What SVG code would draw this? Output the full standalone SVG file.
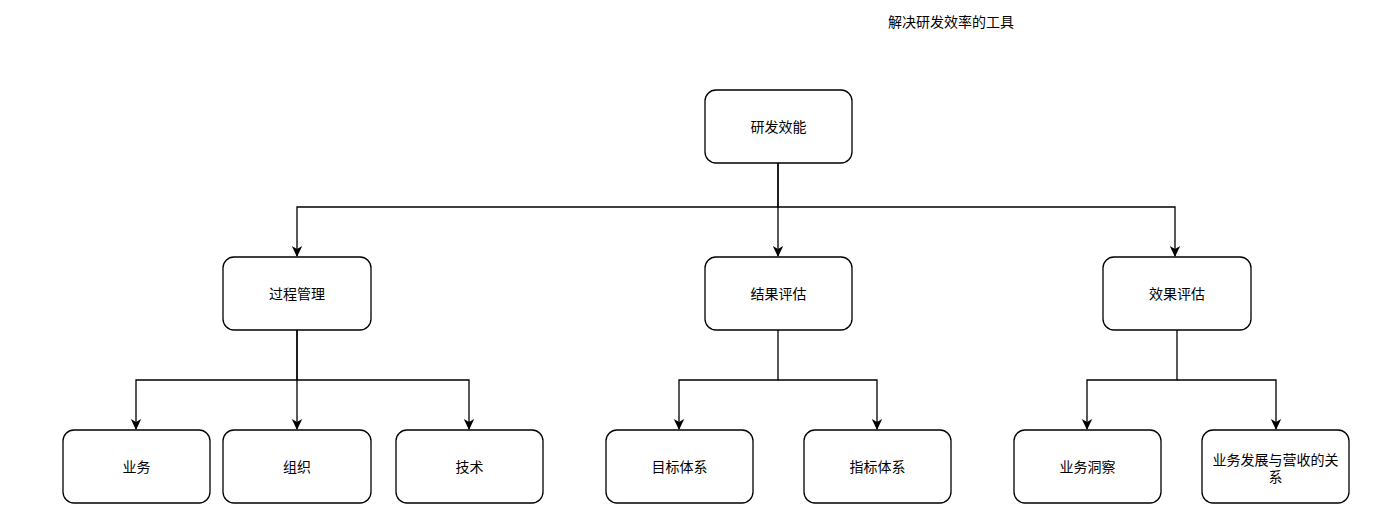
<svg xmlns="http://www.w3.org/2000/svg" width="1400" height="524" viewBox="0 0 1400 524">
<defs>
<style>
.box{fill:#fff;stroke:#000;stroke-width:1.3}
.t{font-family:"Liberation Sans","Noto Sans CJK SC",sans-serif;font-size:14px;fill:#000;text-anchor:middle;dominant-baseline:central}
.c{fill:none;stroke:#000;stroke-width:1.3}
</style>
<marker id="ah" markerWidth="12" markerHeight="12" refX="10" refY="6" orient="auto" markerUnits="userSpaceOnUse">
<path d="M0,0.8 L11,6 L0,11.2 L3,6 Z" fill="#000"/>
</marker>
</defs>
<rect width="1400" height="524" fill="#fff"/>
<text class="t" x="951" y="22">解决研发效率的工具</text>
<g id="connectors">
<path class="c" d="M778,163 V207 H297 V256" marker-end="url(#ah)"/>
<path class="c" d="M778,163 V256" marker-end="url(#ah)"/>
<path class="c" d="M778,207 H1175 V256" marker-end="url(#ah)"/>
<path class="c" d="M297,330 V380 H136 V429" marker-end="url(#ah)"/>
<path class="c" d="M297,330 V429" marker-end="url(#ah)"/>
<path class="c" d="M297,380 H469 V429" marker-end="url(#ah)"/>
<path class="c" d="M778,330 V380 H679 V429" marker-end="url(#ah)"/>
<path class="c" d="M778,380 H877 V429" marker-end="url(#ah)"/>
<path class="c" d="M1177,330 V380 H1087 V429" marker-end="url(#ah)"/>
<path class="c" d="M1177,380 H1276 V429" marker-end="url(#ah)"/>
</g>
<g id="n-root"><rect class="box" x="705" y="90" width="147" height="73" rx="11"/><text class="t" x="778.5" y="127">研发效能</text></g>
<g id="n-process"><rect class="box" x="223" y="257" width="148" height="73" rx="11"/><text class="t" x="297" y="294">过程管理</text></g>
<g id="n-result"><rect class="box" x="705" y="257" width="147" height="73" rx="11"/><text class="t" x="778.5" y="294">结果评估</text></g>
<g id="n-effect"><rect class="box" x="1103" y="257" width="148" height="73" rx="11"/><text class="t" x="1177" y="294">效果评估</text></g>
<g id="n-biz"><rect class="box" x="63" y="430" width="147" height="73" rx="11"/><text class="t" x="136.5" y="467">业务</text></g>
<g id="n-org"><rect class="box" x="223" y="430" width="148" height="73" rx="11"/><text class="t" x="297" y="467">组织</text></g>
<g id="n-tech"><rect class="box" x="396" y="430" width="147" height="73" rx="11"/><text class="t" x="469.5" y="467">技术</text></g>
<g id="n-goal"><rect class="box" x="606" y="430" width="147" height="73" rx="11"/><text class="t" x="679.5" y="467">目标体系</text></g>
<g id="n-metric"><rect class="box" x="804" y="430" width="147" height="73" rx="11"/><text class="t" x="877.5" y="467">指标体系</text></g>
<g id="n-insight"><rect class="box" x="1014" y="430" width="147" height="73" rx="11"/><text class="t" x="1087.5" y="467">业务洞察</text></g>
<g id="n-growth"><rect class="box" x="1202" y="430" width="147" height="73" rx="11"/><text class="t" x="1275.5" y="460">业务发展与营收的关</text><text class="t" x="1275.5" y="477">系</text></g>
</svg>
